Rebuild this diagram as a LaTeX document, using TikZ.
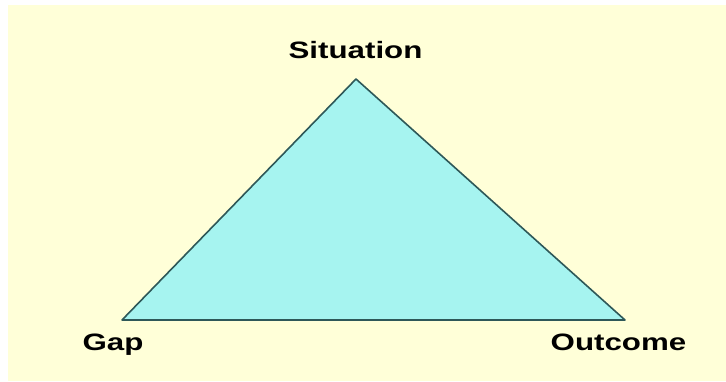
\documentclass[tikz,border=0pt]{standalone}
\usepackage{fontspec}
\newfontfamily\lblfont{Liberation Sans}[FakeStretch=1.32]
\definecolor{SITcream}{HTML}{FFFFD8}
\definecolor{SITcyan}{HTML}{A6F4F0}
\definecolor{SITedge}{HTML}{2E5858}
\usetikzlibrary{positioning}

\begin{document}
\begin{tikzpicture}[x=1pt, y=1pt,
      lbl/.style={anchor=base, inner sep=0pt, font=\lblfont\bfseries\fontsize{23.7}{26}\selectfont}]
   \useasboundingbox (0,0) rectangle (726,381);
   \fill[white] (0,0) rectangle (726,381);
   \fill[SITcream] (8,0) rectangle (726,376);
   % corners of the triangle
   \coordinate (apex) at (356,302);
   \coordinate (gap) at (122,61);
   \coordinate (outcome) at (625,61);
   \filldraw[fill=SITcyan, draw=SITedge, line width=1.6pt, line join=round]
      (apex) -- (outcome) -- (gap) -- cycle;
   % labels
   \node[lbl] (situation) at (355.5,322) {Situation};
   \node[lbl] (gaplbl) at (113,31) {Gap};
   \node[lbl] (outcomelbl) at (618.5,31) {Outcome};
\end{tikzpicture}
\end{document}
